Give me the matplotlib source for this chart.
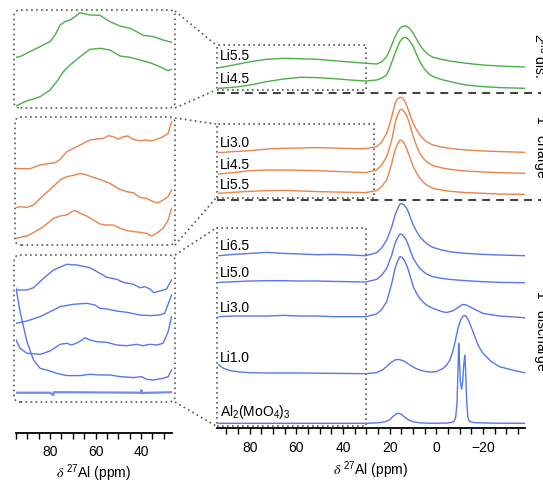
import matplotlib.pyplot as plt
from matplotlib.patches import FancyBboxPatch, Rectangle
from matplotlib.lines import Line2D
from matplotlib.ticker import MultipleLocator

plt.rcParams['font.family'] = ['Liberation Sans', 'DejaVu Sans']
plt.rcParams['font.size'] = 10
plt.rcParams['mathtext.fontset'] = 'stix'
plt.rcParams['mathtext.default'] = 'regular'

GREEN = '#4cae45'
ORANGE = '#e9834a'
BLUE = '#5677ee'
BOXC = '#555555'

# ---------------- main panel data (ppm, intensity) ----------------
ppm = [93.2, 86.8, 79.7, 72.6, 65.5, 58.3, 51.2, 44.1, 37.0, 30.3, 25.6, 23.5, 21.3, 20.2,
       19.1, 17.7, 16.6, 15.6, 14.7, 13.8, 12.9, 12.0, 11.0, 9.9, 8.5, 7.1, 5.6, 4.2, 2.8,
       1.4, -2.2, -5.8, -9.4, -12.9, -16.5, -20.0, -27.1, -37.8]

dis2_li55 = [-0.7, 2, 5.3, 7.7, 8.7, 8.3, 7.7, 6.3, 5, 3.7, 3, 5, 10.3, 16, 22, 30.3, 35, 38.7,
             40.3, 41, 40.8, 39.7, 37.3, 33.7, 28, 22, 17.5, 13.7, 11.5, 9.7, 7.6, 6, 4.8, 3.7,
             2.8, 2, 1, 0]
dis2_li45 = [0, 1, 3.3, 6.7, 9.3, 11, 10.7, 9.7, 8.3, 7.3, 8.3, 10, 13.3, 19, 26, 35, 41.5, 46.7,
             49.5, 51, 50.5, 49, 46, 41.7, 34, 26.7, 21, 16.7, 13.8, 11.7, 8.8, 6.7, 4.8, 3.3,
             2.4, 1.7, 0.7, 0]
ch1_li30 = [-0.3, 0.7, 1.7, 3.3, 4, 4.3, 4.7, 4.3, 3.7, 3.7, 5.7, 10, 19, 27, 35.7, 49, 53.5, 55,
            54.5, 52.3, 48, 42.3, 35.5, 29, 22.5, 17.3, 13.5, 10.7, 8.8, 7.3, 5.3, 4, 3, 2.3,
            1.8, 1.3, 0.7, 0]
ch1_li45 = [-0.7, 0.7, 2.7, 3.3, 3.3, 3, 2.7, 2, 1.3, 0.7, 3.3, 8, 16.7, 24.5, 33.3, 50, 58.5,
            63.5, 64, 61.7, 58.5, 53.3, 45.5, 36.7, 27.5, 20, 15, 11.7, 9.5, 7.7, 5.5, 4, 3, 2.3,
            1.8, 1.3, 0.7, 0]
ch1_li55 = [1, 2, 3, 3.7, 4, 3.3, 2.7, 2.3, 2, 1.7, 3.7, 7.5, 14.3, 22, 31, 44.3, 50.5, 54.3,
            53.5, 51, 47, 41, 34.5, 27.7, 21.5, 16, 12.3, 9.3, 7.5, 6, 4.3, 3, 2.3, 1.7, 1.3, 1,
            0.3, 0]
dis1_li65 = [0, 1.3, 2.3, 3.3, 2.3, 1.7, 1, 1.3, 0.7, 0, 3, 7.5, 15.7, 22, 29, 40.7, 47, 51.7,
             52, 50.7, 48, 44, 37.5, 30.7, 24.5, 19, 15.3, 12.3, 10, 8.3, 5.8, 4, 3, 2.3, 1.8,
             1.3, 0.7, 0]
dis1_li50 = [0.3, 1, 1.7, 2, 2, 1.7, 1.7, 1.3, 1, 0.7, 3.3, 7.3, 14.3, 21, 27.7, 39.3, 45, 48.7,
             48.3, 46, 42.5, 37.7, 31, 24.3, 19, 14.3, 11.2, 8.7, 7.2, 6, 4.4, 3.3, 2.6, 2, 1.5,
             1, 0.3, 0]

ppm_li30 = [93.2, 86.8, 79.7, 72.6, 65.5, 58.3, 51.2, 44.1, 37.0, 30.3, 25.6, 23.5, 21.3, 20.2,
            19.1, 17.7, 16.6, 15.6, 14.7, 13.8, 12.9, 12.0, 11.0, 9.9, 8.5, 7.1, 5.6, 4.2, 2.8,
            1.4, -2.2, -4.4, -7.2, -9.4, -11.2, -12.9, -14.5, -16.5, -20.0, -27.1, -37.8]
dis1_li30 = [1, 1.7, 1.7, 1.7, 2.3, 1.7, 1.7, 1, 1, 1, 3.7, 8, 16, 25, 34.3, 49.3, 56.5, 61,
             60.5, 57.7, 53.5, 47.7, 40, 31, 24.5, 19.3, 15.5, 12.7, 10.8, 9.3, 6.2, 5.2, 7,
             10.3, 13.2, 12.7, 10.8, 8.3, 4.3, 1.7, 0]

ppm_li10 = [93.2, 91.1, 88.2, 84.0, 79.7, 72.6, 65.5, 58.3, 51.2, 44.1, 37.0, 30.3, 25.6, 22.7,
            19.9, 17.7, 16.3, 14.2, 11.3, 9.0, 7.1, 4.9, 2.8, 0.0, -2.9, -4.4, -5.8, -6.9, -7.9,
            -8.6, -9.3, -10.0, -10.8, -11.3, -11.8, -12.3, -12.9, -13.6, -14.3, -15.4, -16.5,
            -18.0, -20.0, -23.6, -27.1, -34.3, -37.8]
dis1_li10 = [7.7, 4.3, 2, 0.7, 0, -0.3, -0.3, -0.3, -0.5, -0.7, -0.8, -1, 0, 3.3, 9.3, 12.7,
             13.3, 12, 7.7, 4.5, 2.7, 1.3, 0.7, 1, 4.3, 7.5, 12.7, 20, 29.3, 37, 44.3, 50, 54.3,
             56, 57, 57.2, 56, 53, 49.3, 43, 36, 27, 19.3, 11, 6, 1.7, 0]

ppm_amo = [93.2, 60, 30, 25, 22, 20, 18.5, 17, 16.3, 15, 13.5, 12, 10, 7, 3, -4, -6.5, -7.6,
           -8.3, -8.9, -9.3, -9.6, -9.9, -10.3, -10.8, -11.3, -11.8, -12.2, -12.6, -13.0,
           -13.5, -14.2, -16, -25, -37.8]
amo = [0, 0, 0, 0.5, 1.5, 3.5, 7, 9.5, 10, 9, 6, 3.5, 1.5, 0.5, 0, 0.2, 0.8, 2, 6, 22, 55, 80,
       62, 42, 34, 42, 60, 68, 50, 22, 6, 2, 0.7, 0.1, 0]

# ---------------- inset data (ppm, intensity) ----------------
in_dis2_li55_ppm = [95.0, 93.2, 88.8, 84.4, 80.0, 77.8, 75.6, 73.4, 71.2, 69.0, 66.8, 64.6, 62.5,
                    58.1, 53.7, 49.3, 44.9, 42.0, 39.1, 34.7, 30.3, 26.6]
in_dis2_li55 = [0, 0.7, 5.7, 10.7, 15.7, 22.3, 32.3, 35.7, 37.3, 40.7, 44.7, 43.3, 42.3, 42, 35.7,
                31.3, 29, 25.7, 22, 20.7, 17.3, 15]
in_dis2_li45_ppm = [95.0, 93.2, 90.2, 87.3, 84.4, 80.0, 77.1, 74.2, 71.2, 66.8, 62.5, 58.1, 53.7,
                    49.3, 44.9, 40.5, 36.1, 31.8, 28.1, 26.6]
in_dis2_li45 = [0, 2, 5.3, 7, 9.3, 16, 24.3, 34.3, 41, 49.3, 56.7, 57.7, 56, 50, 48.7, 46, 43.3,
                39.3, 35.3, 36.7]

in_ch1_li30_ppm = [95.0, 93.2, 88.8, 84.4, 80.0, 77.8, 75.6, 72.7, 69.8, 65.4, 62.5, 59.5, 56.6,
                   54.4, 52.2, 50.0, 47.8, 45.7, 43.4, 40.5, 37.6, 35.4, 33.2, 30.3, 28.1, 26.6]
in_ch1_li30 = [0.3, 0, 0, 3.7, 5.3, 6, 9.3, 17, 20.3, 25.3, 28.7, 29.7, 30.3, 33, 32, 29.7, 32,
               32.7, 29.3, 28, 28.7, 27.7, 29.3, 32, 35.3, 47]
in_ch1_li45_ppm = [95.0, 93.2, 90.2, 87.3, 84.4, 80.0, 75.6, 72.7, 69.0, 66.8, 63.9, 61.0, 58.1,
                   53.7, 49.3, 46.3, 43.4, 40.5, 37.6, 34.7, 32.5, 30.3, 28.1, 26.6]
in_ch1_li45 = [0, 1, 0.3, 2.7, 9.3, 18.3, 27.7, 31, 32.7, 34.3, 32.7, 30.3, 28.3, 24.3, 18.3, 16,
               15, 10.3, 9.3, 6, 5, 7.7, 11, 17.7]
in_ch1_li55_ppm = [95.0, 93.2, 90.2, 87.3, 82.9, 78.5, 75.6, 72.7, 70.5, 69.0, 66.8, 63.9, 61.0,
                   58.1, 55.1, 52.2, 49.3, 46.3, 43.4, 40.5, 37.6, 35.4, 33.2, 30.3, 28.1, 26.6]
in_ch1_li55 = [0, 1, 2.3, 5.7, 11.7, 20, 22.3, 23.3, 26.7, 27.7, 25, 22.3, 18.3, 14.3, 13.3, 13.3,
               10, 7.7, 6.7, 6, 5, 2.3, 5, 10, 18.3, 30]

in_dis1_li65_ppm = [95.0, 90.2, 87.3, 82.9, 78.5, 72.7, 68.3, 62.5, 58.1, 55.1, 50.7, 47.8, 43.4,
                    40.5, 38.3, 36.1, 34.4, 31.8, 28.8, 26.6]
in_dis1_li65 = [0, 0, 2.3, 11.7, 20, 25.7, 25, 22.3, 16.7, 12.7, 10.7, 7.7, 5.7, 2.3, 3.3, 1,
                -2.7, -1, 1, 10]
in_dis1_li50_ppm = [95.0, 90.2, 84.4, 78.5, 75.6, 69.8, 63.9, 60.3, 58.1, 55.1, 50.7, 46.3, 40.5,
                    36.1, 31.8, 29.6, 26.6]
in_dis1_li50 = [0, 2.3, 6.7, 13.3, 16.7, 19, 20, 18.3, 15, 14.3, 12.3, 11, 8.3, 7.7, 8.3, 10, 28.3]
in_dis1_li30_ppm = [95.0, 93.2, 90.2, 84.4, 80.0, 75.6, 72.7, 70.5, 67.6, 64.6, 62.5, 59.5, 55.1,
                    50.7, 46.3, 42.0, 39.1, 36.1, 33.2, 30.3, 28.1, 26.6]
in_dis1_li30 = [0, -8.3, -13.3, -14.3, -11, -4.3, -3.3, -5, -2.3, 2.3, 0, -1.7, -2.3, -5, -5.7,
                -4.3, -5.7, -4.3, -5, -3.3, 8.3, 23.3]
in_dis1_li10_ppm = [95.0, 93.2, 90.2, 87.3, 84.4, 80.0, 77.1, 72.7, 66.8, 62.5, 58.1, 53.7, 49.3,
                    43.4, 39.8, 37.6, 34.7, 30.3, 28.1, 26.6]
in_dis1_li10 = [90, 66.7, 36.7, 18.3, 10, 7.3, 5, 2.7, 2.7, 4, 3.3, 3.3, 1.7, 0.7, 1.7, -1, -1.7,
                0, 1.7, 8.3]
in_amo_ppm = [95.0, 80.0, 78.6, 78.4, 60.0, 40.0, 39.9, 39.7, 26.6]
in_amo = [0, 0, -2.5, 0.5, 0.3, 0, 2.5, -0.3, 0.5]

W, H = 543, 482
fig = plt.figure(figsize=(W / 100, H / 100), dpi=100)


def fx(px):
    return px / W


def fy(py):
    return 1 - py / H


def axes_px(x0, y0, x1, y1):
    return fig.add_axes([fx(x0), fy(y1), (x1 - x0) / W, (y1 - y0) / H])


def dotted_fig_line(p0, p1):
    fig.add_artist(Line2D([fx(p0[0]), fx(p1[0])], [fy(p0[1]), fy(p1[1])],
                          color=BOXC, lw=1.2, ls=(0, (1, 2)), transform=fig.transFigure))


# ---------------- main panel ----------------
ax = axes_px(217, 0, 525, 428)
ax.set_xlim(94, -38)
ax.set_ylim(0, 428)
for s in ['top', 'left', 'right']:
    ax.spines[s].set_visible(False)
ax.spines['bottom'].set_linewidth(1.3)
ax.set_yticks([])
ax.xaxis.set_major_locator(MultipleLocator(20))
ax.xaxis.set_minor_locator(MultipleLocator(5))
ax.tick_params(axis='x', which='both', direction='out', length=4, width=1, pad=5.5)
ax.patch.set_alpha(0)

main_spectra = [
    (ppm, dis2_li55, 361.0, GREEN, 'Li5.5', 11),
    (ppm, dis2_li45, 339.7, GREEN, 'Li4.5', 9.5),
    (ppm, ch1_li30, 275.7, ORANGE, 'Li3.0', 9.3),
    (ppm, ch1_li45, 254.7, ORANGE, 'Li4.5', 8.5),
    (ppm, ch1_li55, 233.7, ORANGE, 'Li5.5', 9.3),
    (ppm, dis1_li65, 172.3, BLUE, 'Li6.5', 10),
    (ppm, dis1_li50, 145.3, BLUE, 'Li5.0', 9.7),
    (ppm_li30, dis1_li30, 110.3, BLUE, 'Li3.0', 9.7),
    (ppm_li10, dis1_li10, 55.3, BLUE, 'Li1.0', 14.7),
    (ppm_amo, amo, 4.7, BLUE, r'Al$_2$(MoO$_4$)$_3$', 11.5),
]
for x, y, off, c, lab, dy in main_spectra:
    ax.plot(x, [v + off for v in y], color=c, lw=1.0)
    ax.text(92.9, off + dy, lab, ha='left', va='center', fontsize=10)

# zoom boxes in the main panel (ppm, height)
for (x0, x1, y0, y1) in [(94.2, 30.1, 338, 383), (94.2, 26.6, 230, 304), (94.2, 30.1, 2, 200)]:
    ax.add_patch(Rectangle((x0, y0), x1 - x0, y1 - y0, fill=False, ec=BOXC, lw=1.2,
                           ls=(0, (1, 2)), clip_on=False))

# ---------------- insets ----------------
ax_g = axes_px(16, 10, 172, 108)
ax_g.set_xlim(95, 26.4)
ax_g.set_ylim(0, 98)
ax_g.axis('off')
ax_g.plot(in_dis2_li55_ppm, [v + 50.7 for v in in_dis2_li55], color=GREEN, lw=1.0)
ax_g.plot(in_dis2_li45_ppm, [v + 2 for v in in_dis2_li45], color=GREEN, lw=1.0)

ax_o = axes_px(16, 117.3, 172, 245)
ax_o.set_xlim(95, 26.4)
ax_o.set_ylim(0, 127.7)
ax_o.axis('off')
ax_o.plot(in_ch1_li30_ppm, [v + 76.3 for v in in_ch1_li30], color=ORANGE, lw=1.0)
ax_o.plot(in_ch1_li45_ppm, [v + 37.3 for v in in_ch1_li45], color=ORANGE, lw=1.0)
ax_o.plot(in_ch1_li55_ppm, [v + 6.7 for v in in_ch1_li55], color=ORANGE, lw=1.0)

ax_b = axes_px(16, 255, 172, 433)
ax_b.set_xlim(95, 26.4)
ax_b.set_ylim(0, 178)
for s in ['top', 'left', 'right']:
    ax_b.spines[s].set_visible(False)
ax_b.spines['bottom'].set_linewidth(1.3)
ax_b.set_yticks([])
ax_b.xaxis.set_major_locator(MultipleLocator(20))
ax_b.xaxis.set_minor_locator(MultipleLocator(5))
ax_b.tick_params(axis='x', which='both', direction='out', length=4, width=1, pad=5)
ax_b.patch.set_alpha(0)
ax_b.plot(in_dis1_li65_ppm, [v + 143 for v in in_dis1_li65], color=BLUE, lw=1.0)
ax_b.plot(in_dis1_li50_ppm, [v + 109.7 for v in in_dis1_li50], color=BLUE, lw=1.0)
ax_b.plot(in_dis1_li30_ppm, [v + 93 for v in in_dis1_li30], color=BLUE, lw=1.0)
ax_b.plot(in_dis1_li10_ppm, [v + 54.7 for v in in_dis1_li10], color=BLUE, lw=1.0)
ax_b.plot(in_amo_ppm, [v + 40.3 for v in in_amo], color=BLUE, lw=1.6, alpha=0.85)

# rounded dotted frames around the insets
for (x0, y0, x1, y1) in [(14, 10, 175, 108), (15, 117, 175, 245), (14, 255, 175, 402)]:
    fig.add_artist(FancyBboxPatch((fx(x0), fy(y1)), (x1 - x0) / W, (y1 - y0) / H,
                                  boxstyle='round,pad=0,rounding_size=0.012',
                                  transform=fig.transFigure, fill=False, ec=BOXC,
                                  lw=1.2, ls=(0, (1, 2))))

# connectors
dotted_fig_line((175, 11), (216, 45))
dotted_fig_line((175, 108), (216, 90))
dotted_fig_line((175, 118), (216, 124))
dotted_fig_line((175, 245), (216, 198))
dotted_fig_line((175, 255), (216, 228))
dotted_fig_line((175, 402), (216, 426))

# dashed separators
for yy in [93, 199.5]:
    fig.add_artist(Line2D([fx(217), fx(541)], [fy(yy), fy(yy)], color='#444444', lw=1.5,
                          ls=(0, (3.8, 2.9)), transform=fig.transFigure))

# section labels at the right edge
fig.text(fx(531), fy(56), r'2$^{nd}$ dis.', rotation=-90, ha='left', va='center', fontsize=10)
fig.text(fx(531), fy(147), r'1$^{st}$ charge', rotation=-90, ha='left', va='center', fontsize=10)
fig.text(fx(531), fy(331), r'1$^{st}$ discharge', rotation=-90, ha='left', va='center', fontsize=10)

xlab = r'$\mathit{\delta}$ $^{27}$Al (ppm)'
fig.text(fx(371), fy(470), xlab, ha='center', va='center', fontsize=10)
fig.text(fx(94), fy(473), xlab, ha='center', va='center', fontsize=10)

fig.savefig('out.png', dpi=100)
